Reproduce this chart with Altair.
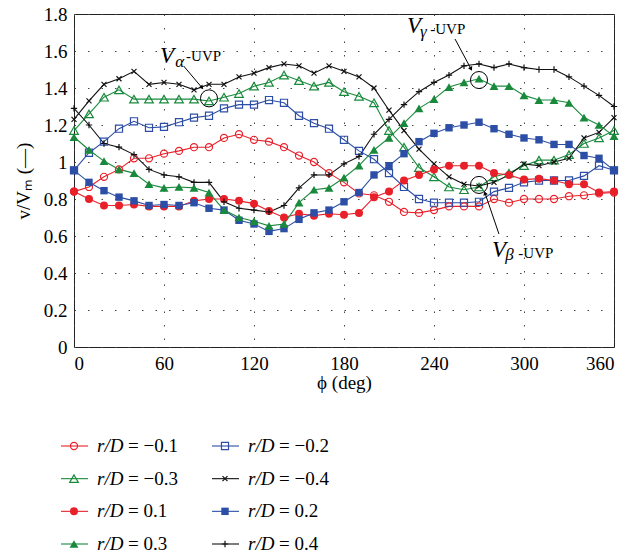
import altair as alt
import pandas as pd

FONT = "Liberation Serif"

phi = list(range(0, 361, 10))

rd_labels = ["= \u22120.1", "= \u22120.2", "= \u22120.3", "= \u22120.4",
             "= 0.1", "= 0.2", "= 0.3", "= 0.4"]

v_neg01 = [0.84, 0.865, 0.92, 0.96, 1.02, 1.02, 1.045, 1.06, 1.08, 1.08, 1.13, 1.15, 1.12,
           1.11, 1.08, 1.035, 1.00, 0.94, 0.89, 0.83, 0.82, 0.785, 0.73, 0.725, 0.74, 0.76,
           0.76, 0.76, 0.80, 0.78, 0.80, 0.80, 0.80, 0.815, 0.82, 0.83, 0.835]
v_neg02 = [0.955, 1.05, 1.11, 1.18, 1.22, 1.185, 1.19, 1.215, 1.24, 1.25, 1.29, 1.31, 1.31,
           1.335, 1.32, 1.25, 1.21, 1.18, 1.12, 1.06, 1.015, 0.94, 0.865, 0.80, 0.78, 0.78,
           0.78, 0.785, 0.84, 0.86, 0.89, 0.90, 0.90, 0.90, 0.925, 0.98, 0.955]
v_neg03 = [1.17, 1.26, 1.35, 1.39, 1.34, 1.34, 1.34, 1.34, 1.34, 1.33, 1.35, 1.37, 1.41,
           1.43, 1.47, 1.44, 1.41, 1.43, 1.38, 1.355, 1.32, 1.17, 1.08, 0.97, 0.92, 0.865,
           0.85, 0.865, 0.92, 0.94, 0.98, 1.01, 1.01, 1.04, 1.10, 1.13, 1.17]
v_neg04 = [1.23, 1.33, 1.42, 1.45, 1.49, 1.42, 1.43, 1.42, 1.39, 1.42, 1.42, 1.46, 1.48,
           1.51, 1.53, 1.52, 1.48, 1.52, 1.49, 1.46, 1.40, 1.28, 1.17, 1.07, 0.99, 0.92,
           0.88, 0.87, 0.89, 0.93, 0.99, 0.98, 1.00, 1.02, 1.13, 1.16, 1.24]
v_pos01 = [0.84, 0.80, 0.765, 0.765, 0.77, 0.76, 0.76, 0.76, 0.79, 0.80, 0.80, 0.79, 0.775,
           0.735, 0.70, 0.72, 0.71, 0.72, 0.715, 0.725, 0.81, 0.84, 0.90, 0.93, 0.96, 0.98,
           0.98, 0.98, 0.94, 0.93, 0.905, 0.91, 0.90, 0.88, 0.88, 0.835, 0.84]
v_pos02 = [0.955, 0.89, 0.845, 0.81, 0.79, 0.765, 0.77, 0.765, 0.78, 0.75, 0.74, 0.685, 0.665,
           0.625, 0.64, 0.69, 0.725, 0.74, 0.785, 0.835, 0.93, 0.98, 1.045, 1.11, 1.155, 1.185,
           1.20, 1.215, 1.18, 1.15, 1.13, 1.12, 1.095, 1.095, 1.035, 1.02, 0.955]
v_pos03 = [1.135, 1.065, 1.005, 0.96, 0.94, 0.88, 0.86, 0.865, 0.86, 0.835, 0.74, 0.70, 0.68,
           0.655, 0.665, 0.78, 0.85, 0.86, 0.915, 0.98, 1.065, 1.13, 1.21, 1.29, 1.34, 1.405,
           1.43, 1.45, 1.41, 1.41, 1.36, 1.335, 1.335, 1.32, 1.24, 1.20, 1.14]
v_pos04 = [1.29, 1.20, 1.10, 1.08, 1.04, 0.96, 0.93, 0.92, 0.89, 0.89, 0.785, 0.75, 0.74,
           0.73, 0.765, 0.86, 0.93, 0.93, 0.99, 1.03, 1.15, 1.23, 1.31, 1.38, 1.43, 1.47,
           1.52, 1.53, 1.51, 1.53, 1.51, 1.50, 1.50, 1.46, 1.41, 1.36, 1.30]

series_values = [v_neg01, v_neg02, v_neg03, v_neg04, v_pos01, v_pos02, v_pos03, v_pos04]

RED, GREEN, BLUE, BLACK = "#e8202a", "#198a3c", "#2d4ea6", "#111111"
X_PATH = "M-1,-1L1,1M-1,1L1,-1"
PLUS_PATH = "M-1,0L1,0M0,-1L0,1"
colors = [RED, BLUE, GREEN, BLACK, RED, BLUE, GREEN, BLACK]
shapes = ["circle", "square", "triangle-up", X_PATH, "circle", "square", "triangle-up", PLUS_PATH]
filled = [False, False, False, False, True, True, True, False]
sizes = [50, 50, 75, 25, 64, 55, 80, 40]
legend_col = [0, 1, 0, 1, 0, 1, 0, 1]
legend_row = [0, 0, 1, 1, 2, 2, 3, 3]

# annotations
circ_phi = [90, 270, 270]
circ_v = [1.344, 1.443, 0.876]
arrow_phi1 = [73.1, 254.0, 283.3]
arrow_v1 = [1.519, 1.665, 0.611]
arrow_phi2 = [85.3, 264.7, 274.0]
arrow_v2 = [1.402, 1.503, 0.832]
arrow_angle = [140, 152, 341]

ann_V_phi = [57.3, 222.0, 278.7]
ann_V_v = [1.535, 1.697, 0.486]
ann_sub_text = ["\u03b1", "\u03b3", "\u03b2"]
ann_sub_phi = [67.5, 230.7, 287.5]
ann_sub_v = [1.512, 1.676, 0.468]
ann_uvp_phi = [74.7, 237.5, 296.2]
ann_uvp_v = [1.546, 1.692, 0.481]

xscale = alt.Scale(domain=[0, 360], nice=False, zero=False)
yscale = alt.Scale(domain=[0, 1.8], nice=False)
xaxis = alt.Axis(values=[0, 60, 120, 180, 240, 300, 360], title="\u03d5 (deg)",
                 grid=True, gridDash=[1.5, 12], gridColor="#444", gridWidth=1,
                 ticks=False, domain=False, labelFont=FONT, labelFontSize=19,
                 labelColor="black", labelPadding=7, titleFont=FONT, titleFontSize=19,
                 titleFontWeight="normal", titleColor="black", titlePadding=0)
yaxis = alt.Axis(values=[0, 0.2, 0.4, 0.6, 0.8, 1.0, 1.2, 1.4, 1.6, 1.8], format="~g",
                 title="v/V\u2098 (\u2014)", grid=True, gridDash=[1.5, 12], gridColor="#444",
                 gridWidth=1, ticks=False, domain=False, labelFont=FONT, labelFontSize=19,
                 labelColor="black", labelPadding=7, titleFont=FONT, titleFontSize=19,
                 titleFontWeight="normal", titleColor="black", titlePadding=10)

layers = []
for i, vals in enumerate(series_values):
    d = pd.DataFrame({"phi": phi, "v": vals})
    base = alt.Chart(d).encode(
        x=alt.X("phi:Q", scale=xscale, axis=xaxis),
        y=alt.Y("v:Q", scale=yscale, axis=yaxis),
    )
    layers.append(base.mark_line(color=colors[i], strokeWidth=1.1))
for i, vals in enumerate(series_values):
    d = pd.DataFrame({"phi": phi, "v": vals})
    base = alt.Chart(d).encode(
        x=alt.X("phi:Q", scale=xscale, axis=xaxis),
        y=alt.Y("v:Q", scale=yscale, axis=yaxis),
    )
    layers.append(base.mark_point(shape=shapes[i], filled=filled[i], size=sizes[i],
                                  color=colors[i], opacity=1,
                                  strokeWidth=1.2 if not filled[i] else 0))

circ_df = pd.DataFrame({"phi": circ_phi, "v": circ_v})
layers.append(alt.Chart(circ_df).mark_point(shape="circle", size=290, filled=False,
                                            color="black", strokeWidth=1, opacity=1).encode(
    x=alt.X("phi:Q", scale=xscale, axis=xaxis), y=alt.Y("v:Q", scale=yscale, axis=yaxis)))

arr_df = pd.DataFrame({"p1": arrow_phi1, "v1": arrow_v1, "p2": arrow_phi2, "v2": arrow_v2,
                       "ang": arrow_angle})
layers.append(alt.Chart(arr_df).mark_rule(color="black", strokeWidth=1).encode(
    x=alt.X("p1:Q", scale=xscale, axis=xaxis), y=alt.Y("v1:Q", scale=yscale, axis=yaxis),
    x2="p2:Q", y2="v2:Q"))
layers.append(alt.Chart(arr_df).mark_point(shape="triangle-up", size=22, filled=True,
                                           color="black", opacity=1).encode(
    x=alt.X("p2:Q", scale=xscale, axis=xaxis), y=alt.Y("v2:Q", scale=yscale, axis=yaxis),
    angle=alt.Angle("ang:Q", scale=None)))

vdf = pd.DataFrame({"phi": ann_V_phi, "v": ann_V_v, "t": ["V", "V", "V"]})
layers.append(alt.Chart(vdf).mark_text(font=FONT, fontSize=23, fontStyle="italic", align="left",
                                       baseline="alphabetic", color="black").encode(
    x=alt.X("phi:Q", scale=xscale, axis=xaxis), y=alt.Y("v:Q", scale=yscale, axis=yaxis),
    text="t:N"))
sdf = pd.DataFrame({"phi": ann_sub_phi, "v": ann_sub_v, "t": ann_sub_text})
layers.append(alt.Chart(sdf).mark_text(font=FONT, fontSize=17, fontStyle="italic", align="left",
                                       baseline="alphabetic", color="black").encode(
    x=alt.X("phi:Q", scale=xscale, axis=xaxis), y=alt.Y("v:Q", scale=yscale, axis=yaxis),
    text="t:N"))
udf = pd.DataFrame({"phi": ann_uvp_phi, "v": ann_uvp_v, "t": ["-UVP", "-UVP", "-UVP"]})
layers.append(alt.Chart(udf).mark_text(font=FONT, fontSize=15, align="left",
                                       baseline="alphabetic", color="black").encode(
    x=alt.X("phi:Q", scale=xscale, axis=xaxis), y=alt.Y("v:Q", scale=yscale, axis=yaxis),
    text="t:N"))

main = alt.layer(*layers).properties(width=540, height=333)

# legend
lscale_x = alt.Scale(domain=[0, 1], nice=False, zero=False)
lscale_y = alt.Scale(domain=[0, 3], nice=False, reverse=True)
leg_layers = []
for i in range(8):
    d = pd.DataFrame({"c": [legend_col[i]], "r": [legend_row[i]], "lab": [rd_labels[i]],
                      "rd": ["r/D"]})
    enc = dict(x=alt.X("c:Q", scale=lscale_x, axis=None), y=alt.Y("r:Q", scale=lscale_y, axis=None))
    leg_layers.append(alt.Chart(d).mark_rule(color=colors[i], strokeWidth=1.1, xOffset=-13,
                                             x2Offset=14).encode(x2="c:Q", **enc))
    leg_layers.append(alt.Chart(d).mark_point(shape=shapes[i], filled=filled[i], size=sizes[i],
                                              color=colors[i], opacity=1,
                                              strokeWidth=1.2 if not filled[i] else 0).encode(**enc))
    leg_layers.append(alt.Chart(d).mark_text(font=FONT, fontSize=19, fontStyle="italic",
                                             align="left", baseline="middle", dx=23,
                                             color="black").encode(text="rd:N", **enc))
    leg_layers.append(alt.Chart(d).mark_text(font=FONT, fontSize=19, align="left",
                                             baseline="middle", dx=54,
                                             color="black").encode(text="lab:N", **enc))
legend = alt.layer(*leg_layers).properties(width=151, height=98,
                                            view=alt.ViewBackground(stroke="transparent"))

chart = alt.vconcat(main, legend, spacing=43).properties(
    padding={"left": 13, "top": 4, "right": 20, "bottom": 5}
).configure_view(stroke="#222", strokeWidth=1)

chart.save("out.html", embed_options={"renderer": "svg", "actions": False})
